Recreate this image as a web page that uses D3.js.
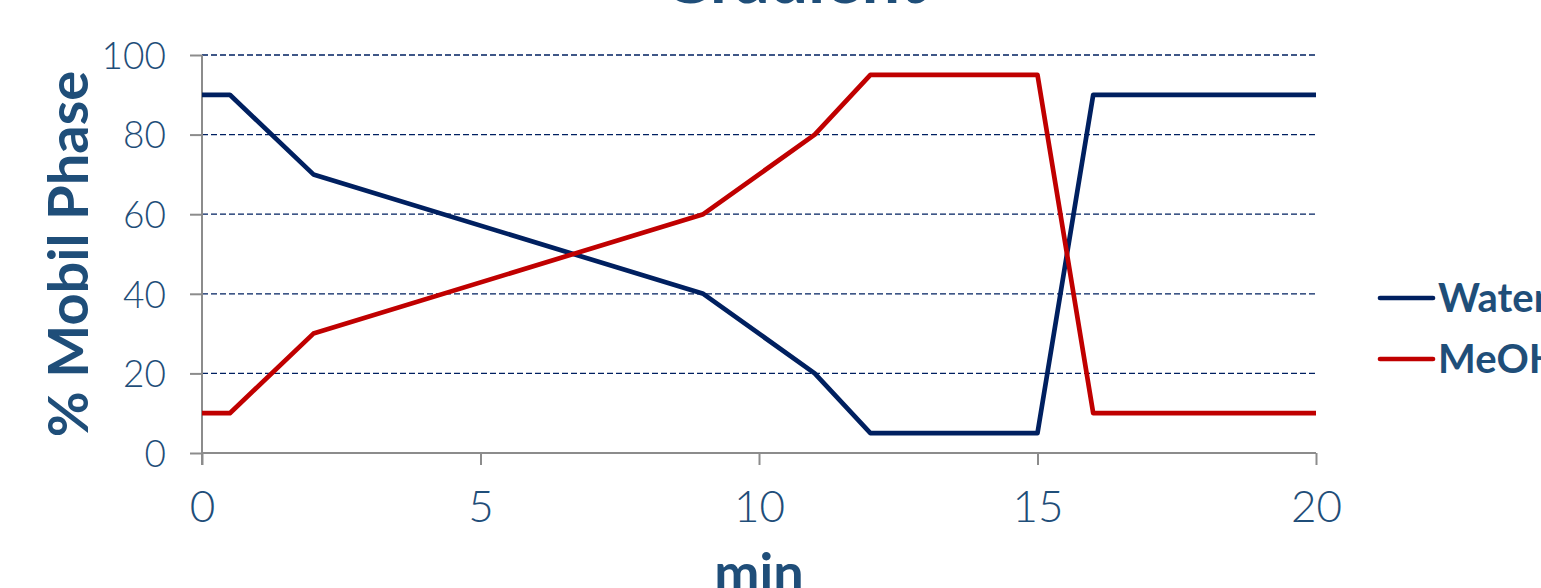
<!DOCTYPE html>
<html>
<head>
<meta charset="utf-8">
<script src="https://cdn.jsdelivr.net/npm/d3@7"></script>
<style>
  html, body { margin: 0; padding: 0; background: #fff; overflow: hidden; }
  svg { display: block; font-family: "Lato", "Open Sans", sans-serif; }
  .tick text { font-family: "Lato Light", "Inter", "Lato", sans-serif; }
</style>
</head>
<body>
<svg id="chart" width="1541" height="588"></svg>
<script>
// Gradient program: time (min) vs % of each mobile phase
const times = [0, 0.5, 2, 9, 11, 12, 15, 16, 20];
const water = [90, 90, 70, 40, 20, 5, 5, 90, 90];
const meoh  = [10, 10, 30, 60, 80, 95, 95, 10, 10];
const seriesNames = ["Water", "MeOH"];
const seriesColors = ["#002060", "#C00000"];
const xTicks = [0, 5, 10, 15, 20];
const yTicks = [0, 20, 40, 60, 80, 100];

const svg = d3.select("#chart");
const textColor = "#1F4E79";
const axisGrey = "#8c8c8c";
const plot = { left: 202, right: 1316, top: 55, bottom: 453 };

const x = d3.scaleLinear().domain([0, 20]).range([plot.left, plot.right]);
const y = d3.scaleLinear().domain([0, 100]).range([plot.bottom, plot.top]);

// Title (sits mostly above the visible area)
svg.append("text")
  .attr("x", 793).attr("y", 3)
  .attr("text-anchor", "middle")
  .attr("font-size", 68).attr("font-weight", 700)
  .attr("fill", textColor)
  .text("Gradient");

// Horizontal dashed gridlines
svg.append("g")
  .selectAll("line")
  .data(yTicks.filter(d => d > 0))
  .join("line")
  .attr("x1", plot.left).attr("x2", plot.right)
  .attr("y1", d => y(d)).attr("y2", d => y(d))
  .attr("stroke", "#002060").attr("stroke-width", 1.3)
  .attr("stroke-dasharray", "6,3");

// Y axis
const yAxis = svg.append("g")
  .attr("transform", `translate(${plot.left},0)`)
  .call(d3.axisLeft(y).tickValues(yTicks).tickSize(12).tickPadding(24).tickSizeOuter(0));
yAxis.select(".domain").remove();
yAxis.append("line")
  .attr("x1", 0).attr("x2", 0)
  .attr("y1", plot.top).attr("y2", plot.bottom + 12)
  .attr("stroke", axisGrey).attr("stroke-width", 2);
yAxis.selectAll(".tick line").attr("stroke", axisGrey).attr("stroke-width", 2);
yAxis.selectAll(".tick text")
  .attr("font-size", 37).attr("font-weight", 300)
  .attr("fill", textColor).attr("dy", "0.36em");

// X axis
const xAxis = svg.append("g")
  .attr("transform", `translate(0,${plot.bottom})`)
  .call(d3.axisBottom(x).tickValues(xTicks).tickSize(12).tickSizeOuter(0));
xAxis.select(".domain").remove();
xAxis.append("line")
  .attr("x1", plot.left).attr("x2", plot.right)
  .attr("y1", 0).attr("y2", 0)
  .attr("stroke", axisGrey).attr("stroke-width", 2);
xAxis.selectAll(".tick line").attr("stroke", axisGrey).attr("stroke-width", 2);
xAxis.selectAll(".tick text")
  .attr("y", 69).attr("dy", "0")
  .attr("font-size", 44).attr("font-weight", 300)
  .attr("fill", textColor);

// Axis titles
svg.append("text")
  .attr("transform", `translate(88,${(plot.top + plot.bottom) / 2}) rotate(-90)`)
  .attr("text-anchor", "middle")
  .attr("font-size", 56).attr("font-weight", 700)
  .attr("fill", textColor)
  .text("% Mobil Phase");

svg.append("text")
  .attr("x", 759).attr("y", 592)
  .attr("text-anchor", "middle")
  .attr("font-size", 54).attr("font-weight", 700)
  .attr("fill", textColor)
  .text("min");

// Series lines
const line = d3.line().x((d, i) => x(times[i])).y(d => y(d));
[water, meoh].forEach((vals, k) => {
  svg.append("path")
    .datum(vals)
    .attr("d", line)
    .attr("fill", "none")
    .attr("stroke", seriesColors[k])
    .attr("stroke-width", 4.7)
    .attr("stroke-linejoin", "round");
});

// Legend
const legend = svg.append("g").attr("transform", "translate(1378,298)");
seriesNames.forEach((name, k) => {
  const g = legend.append("g").attr("transform", `translate(0,${k * 61})`);
  g.append("line")
    .attr("x1", 2).attr("x2", 55)
    .attr("stroke", seriesColors[k]).attr("stroke-width", 4.7)
    .attr("stroke-linecap", "round");
  g.append("text")
    .attr("x", 60).attr("dy", "0.36em")
    .attr("font-size", 40).attr("font-weight", 700)
    .attr("fill", textColor)
    .text(name);
});
</script>
</body>
</html>
